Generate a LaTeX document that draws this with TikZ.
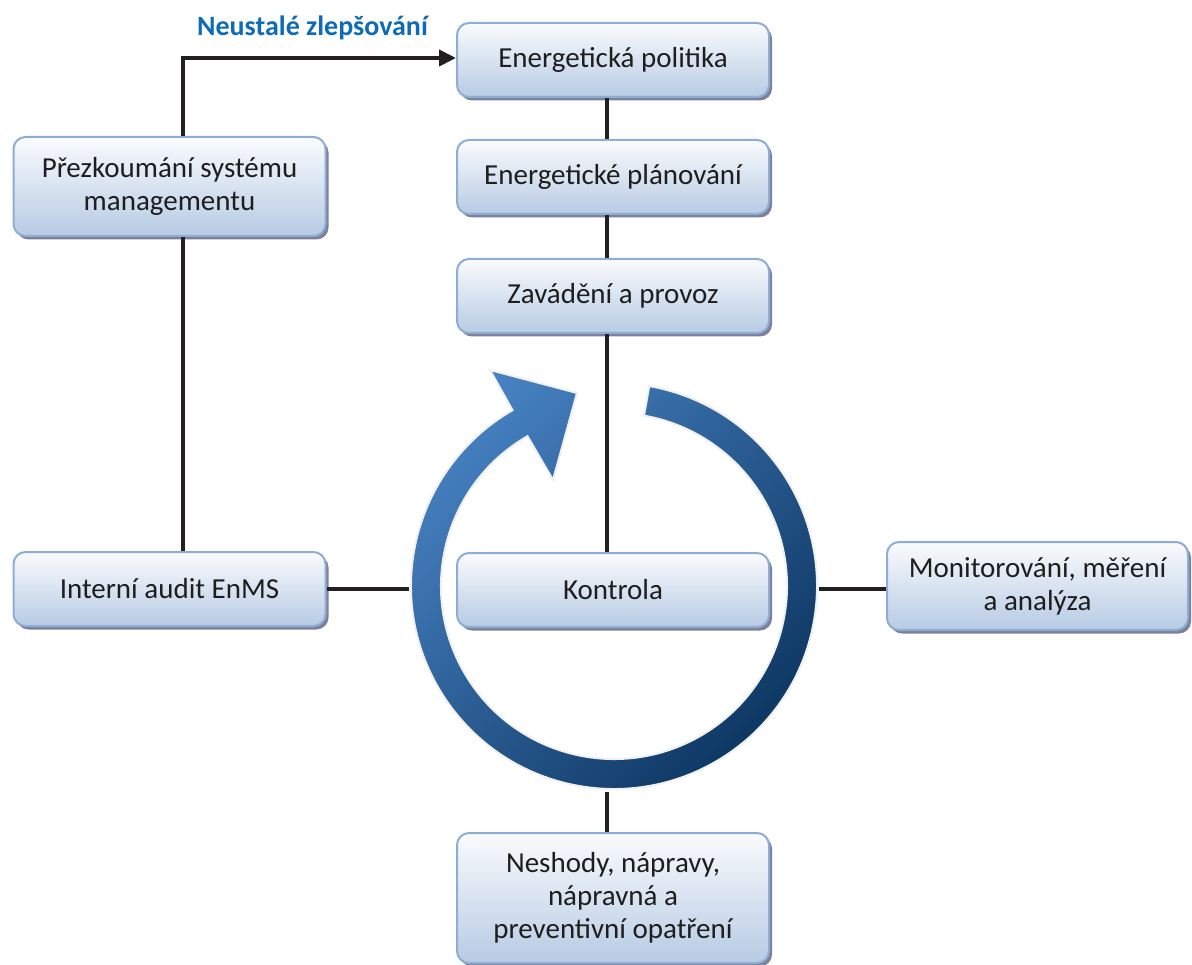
\documentclass[tikz,border=0pt]{standalone}
\usepackage{fontspec}
\setmainfont{Carlito}
\usetikzlibrary{calc,shadows,arrows.meta}
\definecolor{boxborder}{HTML}{8EADD6}
\definecolor{boxbottom}{HTML}{B7CBE4}
\definecolor{boxtop}{HTML}{FAFBFD}
\definecolor{shadowc}{HTML}{7C8199}
\definecolor{txt}{HTML}{1E1E1E}
\definecolor{titleblue}{HTML}{0E6BB8}
\definecolor{ringlight}{HTML}{4680C0}
\definecolor{ringdark}{HTML}{0C3560}
\definecolor{linec}{HTML}{231F20}
\tikzset{
  box/.style={draw=boxborder, line width=2pt, rounded corners=12pt,
    top color=boxtop, bottom color=boxbottom,
    minimum width=312pt, minimum height=74pt, align=center, text=txt,
    font=\fontsize{29}{33}\selectfont, inner sep=0pt,
    drop shadow={shadow xshift=3pt, shadow yshift=-3.5pt, fill=shadowc, opacity=1}},
  conn/.style={draw=linec, line width=4pt},
  arr/.style={conn, -{Triangle[length=17pt,width=16pt]}},
  ttl/.style={font=\fontsize{28}{33}\selectfont\bfseries, text=titleblue, inner sep=0pt}
}
\begin{document}
\begin{tikzpicture}[x=1pt,y=1pt]
\useasboundingbox (0,0) rectangle (1192,-965);
% guide coordinates
\coordinate (vx) at (607,0);
\coordinate (lx) at (183,0);
\coordinate (ay) at (0,-58);
\coordinate (c) at (614,-586);
\coordinate (ringL) at (409,-589);
\coordinate (ringR) at (819,-589);
\coordinate (ringB) at (607,-792);

% ring arrow
\path[draw=black!6, line width=2pt, top color=ringlight, bottom color=ringdark, shading angle=45]
  ($(c)+(80:203)$) arc[start angle=80, end angle=-240, radius=203]
  -- (490,-370) -- (577,-393) -- (553,-480)
  -- ($(c)+(120:173)$) arc[start angle=120, end angle=440, radius=173] -- cycle;

% boxes
\node[box] (pol)  at (613,-60)    {Energetická politika};
\node[box] (plan) at (613,-177)   {Energetické plánování};
\node[box] (zav)  at (613,-296)   {Zavádění a provoz};
\node[box] (kon)  at (613,-590)   {Kontrola};
\node[box, minimum height=130pt] (nes) at (613,-898) {Neshody, nápravy,\\nápravná a\\preventivní opatření};
\node[box, minimum height=99pt] (prez) at (169.5,-186.5) {Přezkoumání systému\\managementu};
\node[box] (aud)  at (169.5,-589) {Interní audit EnMS};
\node[box, minimum width=301pt, minimum height=88pt] (mon) at (1037.5,-586) {Monitorování, měření\\a analýza};

% title
\node[ttl, anchor=base] (title) at (312.5,-36) {Neustalé zlepšování};

% connectors
\draw[arr] (prez.north -| lx) |- (pol.west |- ay);
\draw[conn] (pol.south -| vx) -- (plan.north -| vx);
\draw[conn] (plan.south -| vx) -- (zav.north -| vx);
\draw[conn] (zav.south -| vx) -- (kon.north -| vx);
\draw[conn] (prez.south -| lx) -- (aud.north -| lx);
\draw[conn] (aud.east |- ringL) -- (ringL);
\draw[conn] (ringR) -- (mon.west |- ringR);
\draw[conn] (ringB) -- (nes.north -| ringB);
\end{tikzpicture}
\end{document}
